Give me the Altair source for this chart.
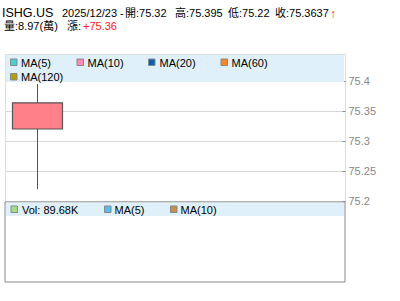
import altair as alt
import pandas as pd

# ---- data ----
symbol = "ISHG.US"
date_str = "2025/12/23 -"
ohlc_labels = ["開:75.32", "高:75.395", "低:75.22", "收:75.3637"]
vol_text = "量:8.97(萬)"
chg_label = "漲:"
chg_value = "+75.36"

candle_idx = [0]
opens = [75.32]
highs = [75.395]
lows = [75.22]
closes = [75.3637]

main_legend = ["MA(5)", "MA(10)", "MA(20)", "MA(60)", "MA(120)"]
main_legend_colors = ["#44d2d2", "#ff8cb4", "#0062b4", "#ff8424", "#b4a000"]
vol_legend = ["Vol: 89.68K", "MA(5)", "MA(10)"]
vol_legend_colors = ["#a4e08c", "#50c0f0", "#c8904c"]

y_ticks = [75.2, 75.25, 75.3, 75.35, 75.4]

# ---- layout ----
FONT = "Liberation Sans, Arial, Noto Sans CJK TC"
PL, PT = 5, 54          # plot area origin in page px
W, H = 340, 147

def px(x):
    return x - PL

def py(y):
    return y - PT

def text_layer(txt, x, y, size, color, weight="normal"):
    return alt.Chart(pd.DataFrame({"t": [txt]})).mark_text(
        align="left", baseline="alphabetic", fontSize=size, color=color,
        font=FONT, fontWeight=weight
    ).encode(x=alt.value(px(x)), y=alt.value(py(y)), text="t:N")

def rect_layer(x1, x2, y1, y2, fill, stroke=None, sw=1):
    kw = dict(fill=fill)
    if stroke:
        kw.update(stroke=stroke, strokeWidth=sw)
    else:
        kw.update(strokeWidth=0)
    return alt.Chart(pd.DataFrame({"a": [0]})).mark_rect(**kw).encode(
        x=alt.value(px(x1)), x2=alt.value(px(x2)),
        y=alt.value(py(y1)), y2=alt.value(py(y2)))

df = pd.DataFrame({"i": candle_idx, "open": opens, "high": highs,
                   "low": lows, "close": closes})

xs = alt.Scale(domain=[-0.5, 5.5])
ys = alt.Scale(domain=[75.2, 75.445], nice=False, zero=False)

base = alt.Chart(df)

axis_layer = base.mark_rule(opacity=0).encode(
    x=alt.X("i:Q", scale=xs, axis=None),
    y=alt.Y("low:Q", scale=ys, title=None, axis=alt.Axis(
        orient="right", values=y_ticks, tickCount=20, format=".2~f", grid=True,
        gridColor="#d8d8d8", gridWidth=1, domain=False, offset=-3,
        tickSize=3, tickColor="#888888", labelColor="#888888",
        labelFontSize=11, labelFont=FONT, labelPadding=3,
        labelOverlap=False, labelBaseline="middle")),
)

band_main = rect_layer(6, 344, 55, 82, "#dff0fa")

wick = base.mark_rule(color="#555555", strokeWidth=1).encode(
    x=alt.X("i:Q", scale=xs), y=alt.Y("low:Q", scale=ys), y2="high:Q")
body = base.mark_bar(size=50, fill="#ff8088", stroke="#555555",
                     strokeWidth=1.2).encode(
    x=alt.X("i:Q", scale=xs), y=alt.Y("open:Q", scale=ys), y2="close:Q")

layers = [axis_layer, band_main, wick, body]

# main legend
sq_x = [10.5, 77, 148.5, 221, 10.5]
tx_x = [21, 87.5, 159.5, 231.5, 21]
sq_y = [59, 59, 59, 59, 73.5]
tx_y = [66.5, 66.5, 66.5, 66.5, 80.5]
for lab, c, sx, tx, sy, ty in zip(main_legend, main_legend_colors, sq_x, tx_x, sq_y, tx_y):
    layers.append(rect_layer(sx, sx + 6.5, sy, sy + 6.5, c, "#888888", 1))
    layers.append(text_layer(lab, tx, ty, 11, "#000000"))

# volume panel
layers.append(rect_layer(5, 345, 202, 282, "#ffffff", "#888888", 1))
layers.append(rect_layer(6, 344, 202.5, 216, "#dff0fa"))
vsq_x = [11, 104.5, 170.5]
vtx_x = [22, 114.5, 180.5]
for lab, c, sx, tx in zip(vol_legend, vol_legend_colors, vsq_x, vtx_x):
    layers.append(rect_layer(sx, sx + 6.5, 206, 212.5, c, "#888888", 1))
    layers.append(text_layer(lab, tx, 213.5, 11, "#000000"))

# header
layers.append(text_layer(symbol, 2, 17, 12.5, "#000000"))
layers.append(text_layer(date_str, 62, 17, 11, "#000000"))
for lab, x in zip(ohlc_labels, [125, 175, 228, 275]):
    layers.append(text_layer(lab, x, 17, 11, "#000000"))
layers.append(text_layer("↑", 330, 18, 12, "#ff2020", "bold"))
layers.append(text_layer(vol_text, 4, 30, 11, "#000000"))
layers.append(text_layer(chg_label, 67, 30, 11, "#000000"))
layers.append(text_layer(chg_value, 83, 30, 11, "#ff2020"))

chart = alt.layer(*layers).properties(
    width=W, height=H,
    autosize=alt.AutoSizeParams(type="none"),
    padding={"left": PL, "top": PT, "right": 400 - PL - W, "bottom": 301 - PT - H},
).configure_view(stroke="#888888", strokeWidth=1).configure(background="white")

chart.save("out.html", embed_options={"renderer": "svg", "actions": False})
